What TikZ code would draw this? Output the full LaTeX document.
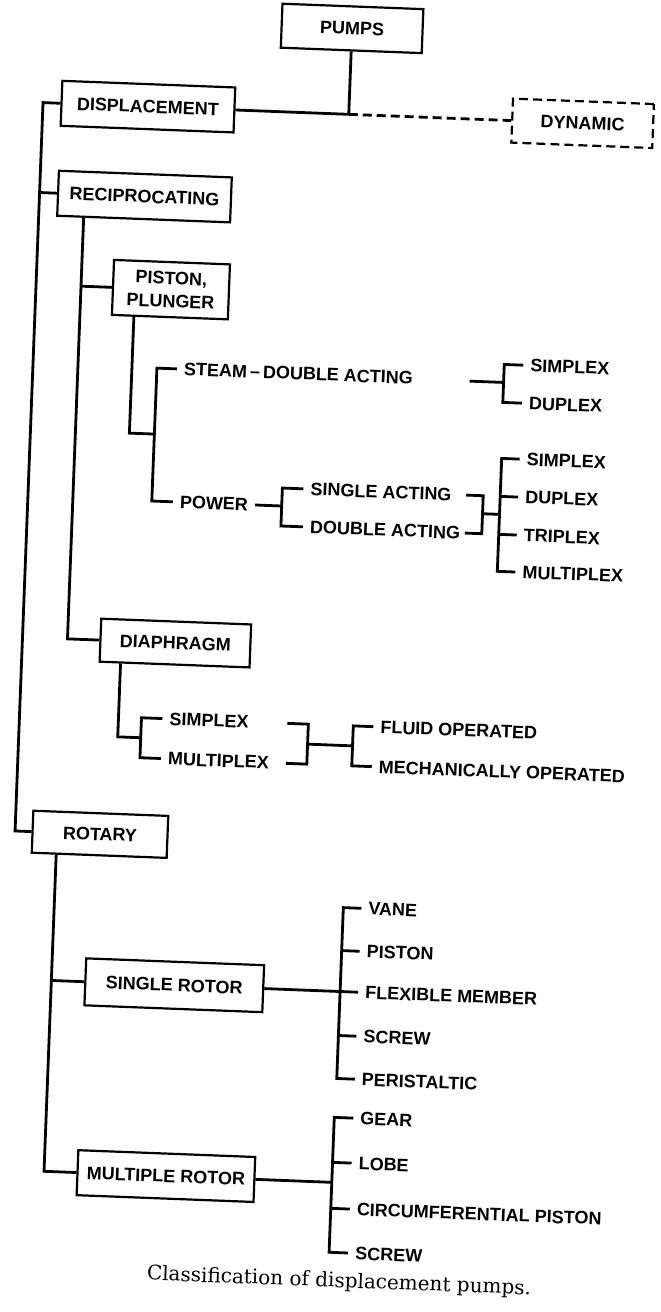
\documentclass[tikz,border=0pt]{standalone}
\usepackage{fontspec}
\setsansfont{Liberation Sans}
\newfontfamily\captionfont{DejaVu Serif}

\begin{document}
\begin{tikzpicture}[
  x=1pt, y=-1pt,
  font=\sffamily\bfseries\fontsize{18}{22}\selectfont,
  box/.style={draw, line width=2.2pt, inner sep=0pt, minimum height=44pt, align=center},
  dynbox/.style={box, dash pattern=on 9pt off 5pt},
  lbl/.style={anchor=west, inner xsep=7pt, inner ysep=2pt},
  link/.style={line width=2.8pt}
]
\useasboundingbox (0,0) rectangle (661,1312);
\begin{scope}[rotate around={-2.2:(330,656)}, transform shape]
\node[box, minimum width=141pt] (pumps) at (328,28) {PUMPS};
\node[box, minimum width=173pt, minimum height=45pt] (disp) at (127,114) {DISPLACEMENT};
\node[dynbox, minimum width=141pt] (dyn) at (562,114) {DYNAMIC};
\coordinate (top) at (328,114);
\draw[link] (pumps) -- (top);
\draw[link] (disp) -- (top);
\draw[link, dash pattern=on 9pt off 5pt] (top) -- (dyn);

\node[box, minimum width=173pt, minimum height=45pt] (recip) at (127,204) {RECIPROCATING};
\node[box, minimum width=135pt, minimum height=42pt] (rotary) at (107,843) {ROTARY};
\coordinate (t1) at (22,0);
\draw[link] (disp.west) -| (t1 |- rotary.west) -- (rotary.west);
\draw[link] (recip.west) -- (recip.west -| t1);

\node[box, minimum width=116pt, minimum height=55pt] (piston) at (157,296) {PISTON,\\[1pt]PLUNGER};
\node[box, minimum width=150pt, minimum height=43pt] (diaph) at (175,649) {DIAPHRAGM};
\coordinate (t2) at (67,0);
\draw[link] (recip.south -| t2) |- (diaph.west);
\draw[link] (piston.west) -- (piston.west -| t2);

\coordinate (t3) at (121,0);
\coordinate (b3) at (146,441);
\node[lbl] (steam) at (166,375) {STEAM\,\textendash\,DOUBLE ACTING};
\node[lbl] (power) at (167,508) {POWER};
\draw[link] (piston.south -| t3) |- (b3);
\draw[link] (steam.west) -| (b3) |- (power.west);

\coordinate (s0) at (459,376);
\coordinate (sb) at (493,376);
\node[lbl] (simplexA) at (512,358) {SIMPLEX};
\node[lbl] (duplexA) at (512,396) {DUPLEX};
\draw[link] (s0) -- (sb);
\draw[link] (simplexA.west) -| (sb) |- (duplexA.west);

\coordinate (pb) at (276,508);
\node[lbl] (sacting) at (297,490) {SINGLE ACTING};
\node[lbl] (dacting) at (298,528) {DOUBLE ACTING};
\draw[link] (power.east) -- (pb);
\draw[link] (sacting.west) -| (pb) |- (dacting.west);

\coordinate (q0) at (460,0);
\coordinate (qb) at (477,508);
\coordinate (rb) at (494,508);
\draw[link] (sacting -| q0) -| (qb) |- (dacting -| q0);
\draw[link] (qb) -- (rb);
\node[lbl] (simplexB) at (512,452) {SIMPLEX};
\node[lbl] (duplexB) at (512,490) {DUPLEX};
\node[lbl] (triplexB) at (512,528) {TRIPLEX};
\node[lbl] (multiplexB) at (512,565) {MULTIPLEX};
\draw[link] (simplexB.west) -| (rb) |- (multiplexB.west);
\draw[link] (duplexB.west) -- (duplexB.west -| rb);
\draw[link] (triplexB.west) -- (triplexB.west -| rb);

\coordinate (db) at (144,745);
\node[lbl] (simplexC) at (165,725) {SIMPLEX};
\node[lbl] (multiplexC) at (165,765) {MULTIPLEX};
\draw[link] (diaph.south -| t3) |- (db);
\draw[link] (simplexC.west) -| (db) |- (multiplexC.west);
\coordinate (e0) at (290,0);
\coordinate (eb) at (311,745);
\coordinate (fb) at (356,745);
\draw[link] (simplexC -| e0) -| (eb) |- (multiplexC -| e0);
\draw[link] (eb) -- (fb);
\node[lbl] (fluid) at (376,725) {FLUID OPERATED};
\node[lbl] (mech) at (376,765) {MECHANICALLY OPERATED};
\draw[link] (fluid.west) -| (fb) |- (mech.west);

\node[box, minimum width=178pt, minimum height=47pt] (srotor) at (187,991) {SINGLE ROTOR};
\node[box, minimum width=177pt, minimum height=45pt] (mrotor) at (186,1182) {MULTIPLE ROTOR};
\coordinate (t4) at (64,0);
\draw[link] (rotary.south -| t4) |- (mrotor.west);
\draw[link] (srotor.west) -- (srotor.west -| t4);

\coordinate (gb) at (353,991);
\node[lbl] (vane) at (371,907) {VANE};
\node[lbl] (pistonR) at (371,950) {PISTON};
\node[lbl] (flex) at (371,991) {FLEXIBLE MEMBER};
\node[lbl] (screwR) at (371,1035) {SCREW};
\node[lbl] (peri) at (371,1078) {PERISTALTIC};
\draw[link] (srotor) -- (flex);
\draw[link] (vane.west) -| (gb) |- (peri.west);
\draw[link] (pistonR.west) -- (pistonR.west -| gb);
\draw[link] (screwR.west) -- (screwR.west -| gb);

\coordinate (hb) at (352,1182);
\node[lbl] (gear) at (371,1117) {GEAR};
\node[lbl] (lobe) at (371,1162) {LOBE};
\node[lbl] (circ) at (371,1208) {CIRCUMFERENTIAL PISTON};
\node[lbl] (screwM) at (371,1252) {SCREW};
\draw[link] (mrotor) -- (hb);
\draw[link] (gear.west) -| (hb) |- (screwM.west);
\draw[link] (lobe.west) -- (lobe.west -| hb);
\draw[link] (circ.west) -- (circ.west -| hb);

\node[font=\captionfont\fontsize{20}{24}\selectfont] (caption) at (363,1281) {Classification of displacement pumps.};
\end{scope}
\end{tikzpicture}
\end{document}
